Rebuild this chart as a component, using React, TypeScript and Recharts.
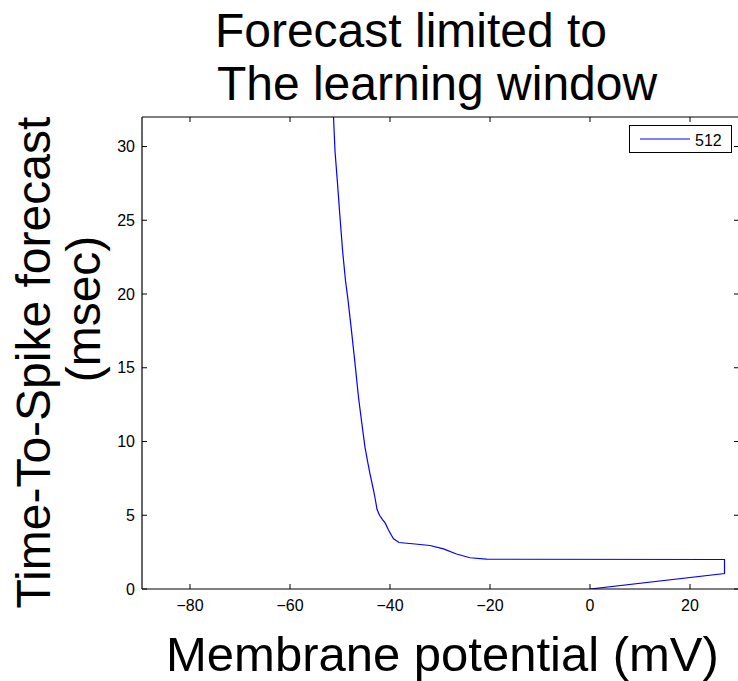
import React from "react";
import { LineChart, Line, XAxis, YAxis, Legend } from "recharts";

// Membrane potential (mV) and forecast time-to-spike (msec), in drawing order
const potentialMv = [
  -51.3, -51.0, -50.5, -50.0, -49.5, -48.9, -48.4, -47.7, -47.0, -46.3, -45.7,
  -45.0, -44.4, -44.0, -43.3, -42.9, -42.6, -42.1, -41.5, -41.0, -40.3, -39.8,
  -39.3, -38.2, -35.0, -32.0, -29.3, -26.7, -24.0, -20.7, 26.9, 26.9, 0.0,
];
const forecastMsec = [
  32.0, 29.7, 27.5, 25.2, 23.0, 20.9, 19.6, 17.5, 15.3, 13.0, 11.4,
  9.6, 8.5, 7.8, 6.7, 6.0, 5.4, 5.0, 4.7, 4.5, 4.0, 3.7,
  3.4, 3.15, 3.05, 2.95, 2.72, 2.37, 2.12, 2.02, 2.0, 1.05, 0.0,
];

const seriesName = "512";
const xTicks = [-80, -60, -40, -20, 0, 20];
const yTicks = [0, 5, 10, 15, 20, 25, 30];
const xDomain: [number, number] = [-89.6, 29.8];
const yDomain: [number, number] = [0, 32];

const titleLines = ["Forecast limited to", "The learning window"];
const yLabelLines = ["Time-To-Spike forecast", "(msec)"];
const xLabel = "Membrane potential (mV)";

const data = potentialMv.map((v, i) => ({ v, t: forecastMsec[i] }));

const FONT = "'Liberation Sans', Arial, Helvetica, sans-serif";
const TICK_LEN = 5;
const AXIS_BAND = 10;

const fmt = (v: number) => (v < 0 ? "\u2212" + Math.abs(v) : String(v));

const BottomTick = (p: any) => (
  <g>
    <line x1={p.x} x2={p.x} y1={p.y} y2={p.y - TICK_LEN} stroke="#000" />
    <text x={p.x} y={p.y + 21.5} textAnchor="middle" fontSize={16} fontFamily={FONT} fill="#000">
      {fmt(p.payload.value)}
    </text>
  </g>
);

const TopTick = (p: any) => (
  <line x1={p.x} x2={p.x} y1={p.y} y2={p.y + TICK_LEN} stroke="#000" />
);

const LeftTick = (p: any) => (
  <g>
    <line x1={p.x} x2={p.x + TICK_LEN} y1={p.y} y2={p.y} stroke="#000" />
    <text x={p.x - 7} y={p.y + 5.7} textAnchor="end" fontSize={16} fontFamily={FONT} fill="#000">
      {fmt(p.payload.value)}
    </text>
  </g>
);

const RightTick = (p: any) => (
  <line x1={p.x} x2={p.x - TICK_LEN} y1={p.y} y2={p.y} stroke="#000" />
);

const LegendBox = (props: any) => {
  const item = (props.payload && props.payload[0]) || { value: seriesName, color: "#0000ff" };
  return (
    <svg width={103} height={28} style={{ display: "block" }}>
      <rect x={0.5} y={0.5} width={102} height={27} fill="#fff" stroke="#000" />
      <line x1={11} x2={61} y1={14} y2={14} stroke={item.color || "#0000ff"} strokeWidth={1} />
      <text x={66} y={20.7} fontSize={16} fontFamily={FONT} fill="#000">
        {item.value}
      </text>
    </svg>
  );
};

const axisLine = { stroke: "#000", strokeWidth: 1.2 };

export default function App() {
  return (
    <div
      style={{
        position: "fixed",
        left: 0,
        top: 0,
        width: 738,
        height: 681,
        overflow: "hidden",
        background: "#fff",
        fontFamily: FONT,
      }}
    >
      <LineChart
        width={760}
        height={681}
        data={data}
        margin={{
          top: 117 - AXIS_BAND,
          right: 21 - AXIS_BAND,
          bottom: 92 - AXIS_BAND,
          left: 142 - AXIS_BAND,
        }}
      >
        <XAxis
          dataKey="v"
          type="number"
          domain={xDomain}
          allowDataOverflow
          ticks={xTicks}
          height={AXIS_BAND}
          tickSize={0}
          tickMargin={0}
          tickLine={false}
          axisLine={axisLine}
          tick={BottomTick}
          interval={0}
        />
        <XAxis
          xAxisId="top"
          orientation="top"
          dataKey="v"
          type="number"
          domain={xDomain}
          allowDataOverflow
          ticks={xTicks}
          height={AXIS_BAND}
          tickSize={0}
          tickMargin={0}
          tickLine={false}
          axisLine={axisLine}
          tick={TopTick}
          interval={0}
        />
        <YAxis
          type="number"
          domain={yDomain}
          allowDataOverflow
          ticks={yTicks}
          width={AXIS_BAND}
          tickSize={0}
          tickMargin={0}
          tickLine={false}
          axisLine={axisLine}
          tick={LeftTick}
          interval={0}
        />
        <YAxis
          yAxisId="right"
          orientation="right"
          type="number"
          domain={yDomain}
          allowDataOverflow
          ticks={yTicks}
          width={AXIS_BAND}
          tickSize={0}
          tickMargin={0}
          tickLine={false}
          axisLine={axisLine}
          tick={RightTick}
          interval={0}
        />
        <Legend
          layout="horizontal"
          verticalAlign="middle"
          align="center"
          content={LegendBox}
          wrapperStyle={{ position: "absolute", left: 629, top: 125, width: 103, height: 28, right: "auto", bottom: "auto" }}
        />
        <Line
          type="linear"
          dataKey="t"
          name={seriesName}
          stroke="#0000ff"
          strokeWidth={1.2}
          dot={false}
          activeDot={false}
          isAnimationActive={false}
        />
        <text x={411} y={46.7} textAnchor="middle" fontSize={48} fontFamily={FONT} fill="#000">
          {titleLines[0]}
        </text>
        <text x={437} y={100} textAnchor="middle" fontSize={48} fontFamily={FONT} fill="#000">
          {titleLines[1]}
        </text>
        <text x={166} y={671} textAnchor="start" fontSize={49} fontFamily={FONT} fill="#000">
          {xLabel}
        </text>
        <text
          x={50}
          y={362.6}
          textAnchor="middle"
          fontSize={48}
          fontFamily={FONT}
          fill="#000"
          transform="rotate(-90 50 362.6)"
        >
          {yLabelLines[0]}
        </text>
        <text
          x={100}
          y={309}
          textAnchor="middle"
          fontSize={48}
          fontFamily={FONT}
          fill="#000"
          transform="rotate(-90 100 309)"
        >
          {yLabelLines[1]}
        </text>
      </LineChart>
    </div>
  );
}
